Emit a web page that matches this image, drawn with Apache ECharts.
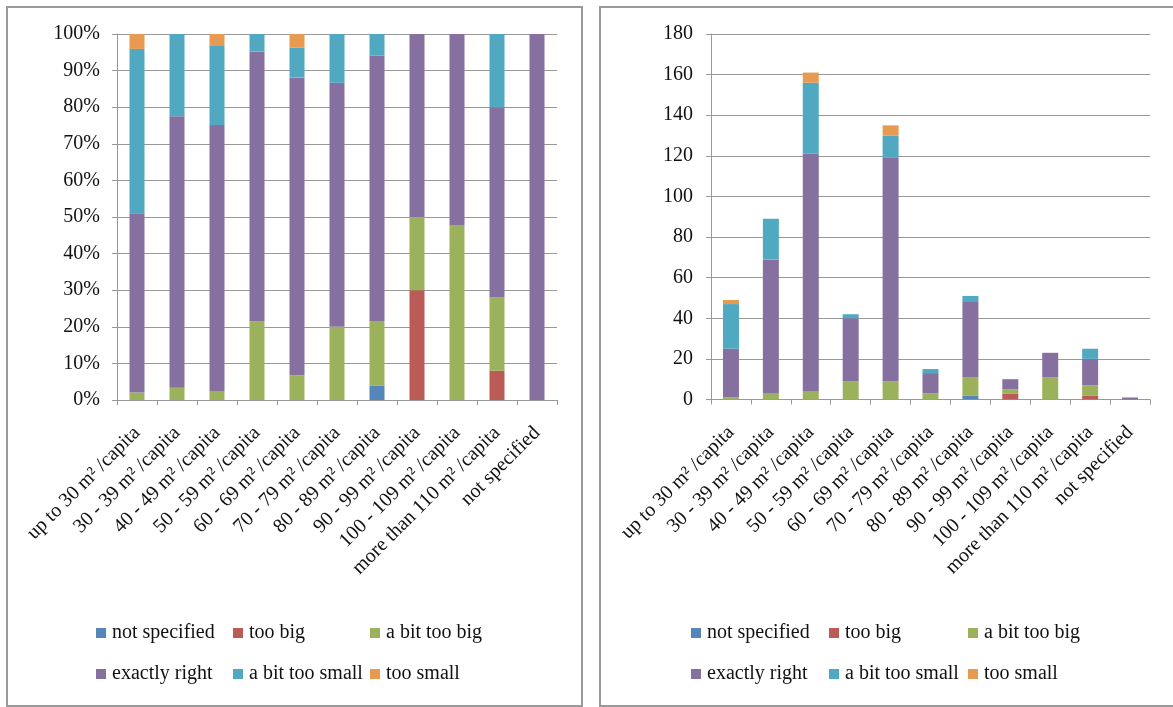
<!DOCTYPE html>
<html>
<head>
<meta charset="utf-8">
<script src="https://cdn.jsdelivr.net/npm/echarts@6/dist/echarts.min.js"></script>
<style>
  html, body { margin: 0; padding: 0; background: #fff; }
  #chart { width: 1173px; height: 707px; }
</style>
</head>
<body>
<div id="chart"></div>
<script>
// Living space per capita groups
const categories = [
  'up to 30 m\u00B2 /capita', '30 - 39 m\u00B2 /capita', '40 - 49 m\u00B2 /capita',
  '50 - 59 m\u00B2 /capita', '60 - 69 m\u00B2 /capita', '70 - 79 m\u00B2 /capita',
  '80 - 89 m\u00B2 /capita', '90 - 99 m\u00B2 /capita', '100 - 109 m\u00B2 /capita',
  'more than 110 m\u00B2 /capita', 'not specified'
];

// Answer counts per group (stacked bottom to top)
const notSpecified = [0, 0, 0, 0, 0, 0, 2, 0, 0, 0, 0];
const tooBig       = [0, 0, 0, 0, 0, 0, 0, 3, 0, 2, 0];
const aBitTooBig   = [1, 3, 4, 9, 9, 3, 9, 2, 11, 5, 0];
const exactlyRight = [24, 66, 117, 31, 110, 10, 37, 5, 12, 13, 1];
const aBitTooSmall = [22, 20, 35, 2, 11, 2, 3, 0, 0, 5, 0];
const tooSmall     = [2, 0, 5, 0, 5, 0, 0, 0, 0, 0, 0];

const pctTicks = [0, 10, 20, 30, 40, 50, 60, 70, 80, 90, 100];
const cntTicks = [0, 20, 40, 60, 80, 100, 120, 140, 160, 180];

const seriesDefs = [
  { name: 'not specified',    data: notSpecified, color: '#5585B9' },
  { name: 'too big',          data: tooBig,       color: '#BA5C55' },
  { name: 'a bit too big',    data: aBitTooBig,   color: '#9BB15C' },
  { name: 'exactly right',    data: exactlyRight, color: '#8670A0' },
  { name: 'a bit too small',  data: aBitTooSmall, color: '#51A9C1' },
  { name: 'too small',        data: tooSmall,     color: '#E69A52' }
];

// Share of each answer within its group, in percent
const totals = categories.map((_, i) => seriesDefs.reduce((s, d) => s + d.data[i], 0));
const toPct = arr => arr.map((v, i) => totals[i] ? v / totals[i] * 100 : 0);

const FONT = '"Liberation Serif", "Times New Roman", serif';
const GRID_COLOR = '#999999';

function xAxisFor(gridIndex) {
  return {
    type: 'category', gridIndex, data: categories,
    axisLine: { lineStyle: { color: GRID_COLOR, width: 1 } },
    axisTick: { show: true, length: 5, lineStyle: { color: GRID_COLOR } },
    axisLabel: {
      interval: 0, rotate: 45, margin: 30,
      fontFamily: FONT, fontSize: 20, color: '#111'
    }
  };
}

function yAxisFor(gridIndex, max, interval, fmt, margin) {
  return {
    type: 'value', gridIndex, min: 0, max, interval,
    axisLine: { show: true, lineStyle: { color: GRID_COLOR, width: 1 } },
    axisTick: { show: true, length: 5, lineStyle: { color: GRID_COLOR } },
    splitLine: { show: true, lineStyle: { color: GRID_COLOR, width: 1.2 } },
    axisLabel: {
      formatter: fmt, margin,
      fontFamily: FONT, fontSize: 20, color: '#111'
    }
  };
}

const series = [];
seriesDefs.forEach(d => {
  series.push({
    name: d.name, type: 'bar', stack: 'pct', xAxisIndex: 0, yAxisIndex: 0,
    barWidth: 15, data: toPct(d.data), itemStyle: { color: d.color },
    emphasis: { disabled: true }
  });
  series.push({
    name: d.name, type: 'bar', stack: 'cnt', xAxisIndex: 1, yAxisIndex: 1,
    barWidth: 16, data: d.data, itemStyle: { color: d.color },
    emphasis: { disabled: true }
  });
});

// Two-row legend grid under each panel
function legendsAt(colX, rowY) {
  return seriesDefs.map((d, i) => ({
    data: [d.name],
    left: colX[i % 3],
    top: rowY[Math.floor(i / 3)],
    padding: 0,
    icon: 'rect', itemWidth: 10, itemHeight: 10, itemGap: 0,
    textStyle: { fontFamily: FONT, fontSize: 20, color: '#111', padding: [0, 0, 0, 1] },
    selectedMode: false
  }));
}

const legend = [
  ...legendsAt([96, 233, 370], [623, 664]),
  ...legendsAt([691, 829, 968], [623, 664])
];

const option = {
  animation: false,
  backgroundColor: '#fff',
  grid: [
    { left: 117, top: 34, width: 440, height: 366 },
    { left: 711, top: 34, width: 439, height: 365.5 }
  ],
  xAxis: [xAxisFor(0), xAxisFor(1)],
  yAxis: [
    yAxisFor(0, pctTicks[pctTicks.length - 1], pctTicks[1] - pctTicks[0], '{value}%', 17),
    yAxisFor(1, cntTicks[cntTicks.length - 1], cntTicks[1] - cntTicks[0], '{value}', 18)
  ],
  legend,
  series,
  graphic: [
    { type: 'rect', shape: { x: 7, y: 7, width: 575, height: 699 },
      style: { fill: 'none', stroke: '#999', lineWidth: 2 }, silent: true },
    { type: 'rect', shape: { x: 600, y: 7, width: 590, height: 699 },
      style: { fill: 'none', stroke: '#999', lineWidth: 2 }, silent: true }
  ]
};

const chart = echarts.init(document.getElementById('chart'), null, { renderer: 'canvas' });
chart.setOption(option);
</script>
</body>
</html>
